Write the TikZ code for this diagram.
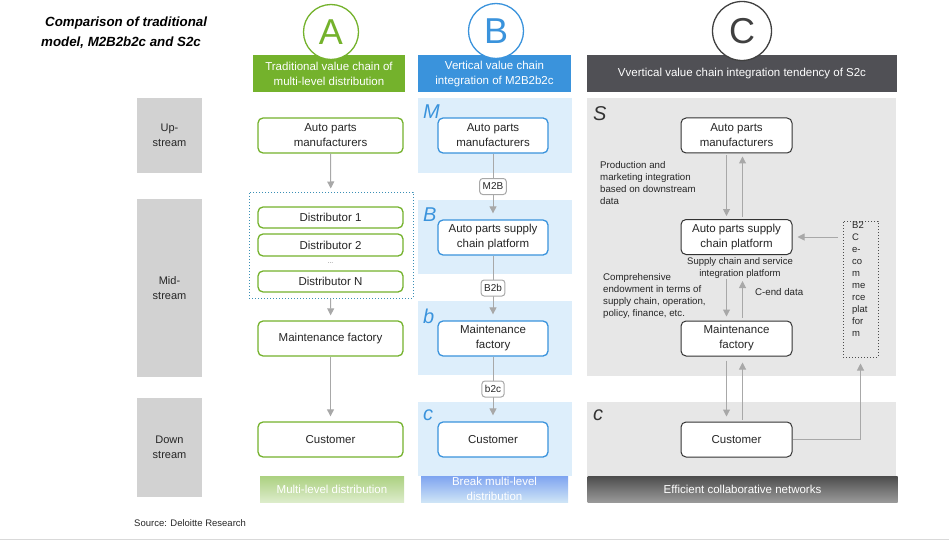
\documentclass[tikz,border=0pt]{standalone}
\usepackage{fontspec}
\setmainfont{Liberation Sans}
\usetikzlibrary{arrows.meta}
\definecolor{agreen}{HTML}{74B22C}
\definecolor{bblue}{HTML}{3A93DC}
\definecolor{cgray}{HTML}{505055}
\definecolor{stagegray}{HTML}{D2D2D2}
\definecolor{paleblue}{HTML}{DDEEFB}
\definecolor{palegray}{HTML}{E7E7E7}
\definecolor{linegray}{HTML}{A8A8A8}
\definecolor{distblue}{HTML}{3A8FB5}

\begin{document}
\begin{tikzpicture}[x=1pt,y=-1pt]
\useasboundingbox (0,0) rectangle (949,540);
\tikzstyle{every node}=[inner sep=0pt, align=center, text=black!85, font=\fontsize{11.5}{15}\selectfont]
\tikzstyle{stage}=[fill=stagegray, minimum width=65, font=\fontsize{11}{15}\selectfont]
\tikzstyle{head}=[minimum width=152, minimum height=37, text=white, font=\fontsize{11.5}{15}\selectfont]
\tikzstyle{badge}=[circle, fill=white, line width=1.3pt, minimum size=55, font=\fontsize{36}{36}\selectfont]
\tikzstyle{greenbox}=[draw=agreen, line width=1.3pt, rounded corners=5pt, fill=white, minimum width=145, minimum height=35]
\tikzstyle{bluebox}=[draw=bblue, line width=1.3pt, rounded corners=5pt, fill=white, minimum width=110, minimum height=35]
\tikzstyle{blackbox}=[draw=black!80, line width=1pt, rounded corners=5pt, fill=white, minimum width=111, minimum height=35]
\tikzstyle{tag}=[draw=linegray, fill=white, rounded corners=3pt, inner xsep=3pt, minimum height=16, font=\fontsize{10}{12}\selectfont]
\tikzstyle{arr}=[draw=linegray, line width=1pt, -{Triangle[width=7pt,length=7pt]}]
\tikzstyle{note}=[align=left, anchor=north west, font=\fontsize{9.7}{12}\selectfont]
\tikzstyle{letter}=[anchor=base west, font=\fontsize{20}{20}\selectfont\itshape]
\tikzstyle{foot}=[minimum height=26, text=white, font=\fontsize{11.5}{15}\selectfont]

% title and source
\path (41,32.5) node[anchor=west, align=left, text=black, font=\fontsize{13.3}{20}\selectfont\bfseries\itshape] (title) {\hspace*{4pt}Comparison of traditional\\model, M2B2b2c and S2c};
\path (134,523) node[anchor=west, font=\fontsize{9.5}{12}\selectfont] (source) {Source: Deloitte Research};
\draw[black!15, line width=1pt] (0,539) -- (949,539);

% stages
\path (169.5,135.5) node[stage, minimum height=75] (up) {Up-\\stream};
\path (169.5,288) node[stage, minimum height=178] (mid) {Mid-\\stream};
\path (169.5,447.5) node[stage, minimum height=99] (down) {Down\\stream};

% panels
\fill[paleblue] (418,98) rectangle (572,173);
\fill[paleblue] (418,200) rectangle (572,274);
\fill[paleblue] (418,301) rectangle (572,375);
\fill[paleblue] (418,402) rectangle (572,476);
\fill[palegray] (587,98) rectangle (896,376);
\fill[palegray] (587,402) rectangle (896,476);

% headers
\path (329,74) node[head, fill=agreen] (headA) {Traditional value chain of\\multi-level distribution};
\path (494.5,74) node[head, fill=bblue, minimum width=153] (headB) {Vertical value chain\\integration of M2B2b2c};
\path (742,74) node[head, fill=cgray, minimum width=310] (headC) {Vvertical value chain integration tendency of S2c};
\path (331,32) node[badge, draw=agreen, text=agreen] (circA) {A};
\path (496,31) node[badge, draw=bblue, text=bblue] (circB) {B};
\path (742,31) node[badge, draw=black!75, text=black!75, minimum size=59] (circC) {C};

% column A
\path (330.5,135.5) node[greenbox] (A1) {Auto parts\\manufacturers};
\path (331,245) node[draw=distblue, dotted, line width=1pt, minimum width=164, minimum height=106] (dist) {};
\path (330.5,217.5) node[greenbox, minimum height=21] (d1) {Distributor 1};
\path (330.5,245) node[greenbox, minimum height=22] (d2) {Distributor 2};
\path (330.5,263) node[text=black!50, font=\fontsize{7}{7}\selectfont] (dots) {...};
\path (330.5,281.5) node[greenbox, minimum height=21] (dN) {Distributor N};
\path (330.5,338.5) node[greenbox] (A2) {Maintenance factory};
\path (330.5,439.5) node[greenbox] (A3) {Customer};
\path (332,489) node[foot, minimum width=144, top color=agreen!60, bottom color=agreen!25] (footA) {Multi-level distribution};
\draw[arr, shorten >=3] (A1) -- (dist);
\draw[arr, shorten >=5] (dist) -- (A2);
\draw[arr, shorten >=5] (A2) -- (A3);

% column B
\path (423,119) node[letter, text=bblue] (lM) {M};
\path (423,221) node[letter, text=bblue] (lB) {B};
\path (423,323) node[letter, text=bblue] (lb) {b};
\path (423,420) node[letter, text=bblue] (lc) {c};
\path (493,135.5) node[bluebox] (B1) {Auto parts\\manufacturers};
\path (493,237.5) node[bluebox] (B2) {Auto parts supply\\chain platform};
\path (493,338.5) node[bluebox] (B3) {Maintenance\\factory};
\path (493,439.5) node[bluebox] (B4) {Customer};
\path (494.5,489) node[foot, minimum width=147, top color=bblue!70!blue!60, bottom color=bblue!25] (footB) {Break multi-level\\distribution};
\draw[arr, shorten >=6] (B1) -- node[tag] (m2b) {M2B} (B2);
\draw[arr, shorten >=6] (B2) -- node[tag] (b2b) {B2b} (B3);
\draw[arr, shorten >=6] (B3) -- node[tag] (b2c) {b2c} (B4);

% column C
\path (593,121) node[letter, text=black!80] (lS) {S};
\path (593,420) node[letter, text=black!80] (lcc) {c};
\path (736.5,135.5) node[blackbox] (C1) {Auto parts\\manufacturers};
\path (736.5,237) node[blackbox] (C2) {Auto parts supply\\chain platform};
\path (740,268) node[font=\fontsize{9.5}{12}\selectfont] (C2note) {Supply chain and service\\integration platform};
\path (736.5,338.5) node[blackbox] (C3) {Maintenance\\factory};
\path (736.5,439.5) node[blackbox] (C4) {Customer};
\path (860.5,289) node[draw=black!70, dotted, line width=1pt, minimum width=35, minimum height=136] (eplat) {};
\path (852,222) node[note, font=\fontsize{9.5}{12}\selectfont] (etext) {B2\\C\\e-\\co\\m\\me\\rce\\plat\\for\\m};
\path (600,161) node[note] (prodnote) {Production and\\marketing integration\\based on downstream\\data};
\path (603,273) node[note] (endownote) {Comprehensive\\endowment in terms of\\supply chain, operation,\\policy, finance, etc.};
\path (755,292) node[note, anchor=west] (cendnote) {C-end data};
\draw[arr, shorten <=2, shorten >=3] ([xshift=-10]C1.south) -- ([xshift=-10]C2.north);
\draw[arr, shorten <=2, shorten >=3] ([xshift=6]C2.north) -- ([xshift=6]C1.south);
\draw[arr, shorten <=24, shorten >=4] ([xshift=-10]C2.south) -- ([xshift=-10]C3.north);
\draw[arr, shorten <=3, shorten >=26] ([xshift=6]C3.north) -- ([xshift=6]C2.south);
\draw[arr, shorten <=4, shorten >=5] ([xshift=-10]C3.south) -- ([xshift=-10]C4.north);
\draw[arr, shorten <=2, shorten >=6] ([xshift=6]C4.north) -- ([xshift=6]C3.south);
\draw[arr, shorten <=5, shorten >=5] (eplat.west |- C2.east) -- (C2.east);
\draw[arr, shorten >=6] (C4.east) -| (eplat.south);
\path (742.5,489) node[foot, minimum width=310, top color=black!70, bottom color=black!40] (footC) {Efficient collaborative networks};
\end{tikzpicture}
\end{document}
